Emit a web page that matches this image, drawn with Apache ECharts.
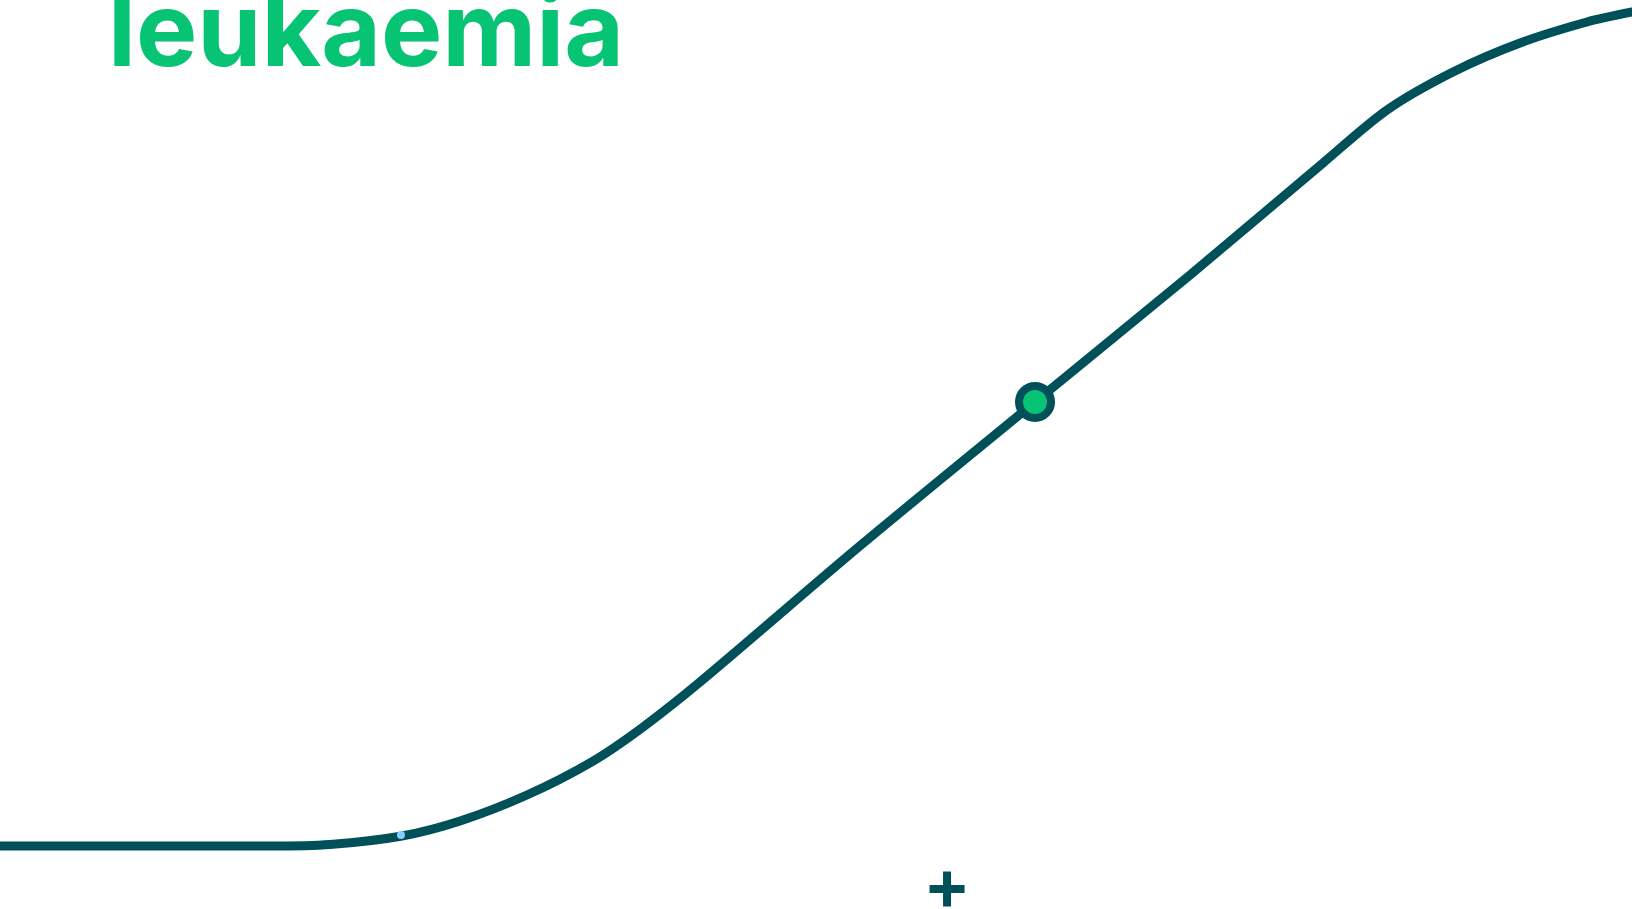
<!DOCTYPE html>
<html>
<head>
<meta charset="utf-8">
<script src="https://cdn.jsdelivr.net/npm/echarts@6/dist/echarts.min.js"></script>
<style>
html,body{margin:0;padding:0;background:#fff;}
#c{width:1632px;height:909px;}
</style>
</head>
<body>
<div id="c"></div>
<script>
// Curve values (x: 0-100 progress, y: 0-100 level)
var curveX = [0, 8.58, 16.54, 20.22, 24.63, 28.19, 32.29, 36.34, 39.40, 42.89, 52.70, 63.42, 72.92, 81.07, 84.99, 89.03, 93.14, 97.24, 100];
var curveY = [6.93, 6.93, 6.93, 7.10, 8.03, 9.68, 12.54, 16.28, 20.02, 24.97, 39.96, 55.78, 69.75, 82.07, 87.90, 92.08, 95.27, 97.58, 98.68];
// Highlighted point
var highlightPoint = [63.42, 55.78];
// Small hover dot
var hoverDot = [24.57, 8.14];
// Plus sign position
var plusPoint = [58.03, 2.20];
var titleText = 'leukaemia';

var curveData = curveX.map(function (x, i) { return [x, curveY[i]]; });

var chart = echarts.init(document.getElementById('c'), null, {renderer: 'canvas'});
chart.setOption({
  backgroundColor: '#ffffff',
  animation: false,
  title: {
    text: titleText,
    left: 103,
    top: -21,
    textStyle: {
      fontFamily: 'Inter',
      fontWeight: 700,
      fontSize: 103,
      color: '#07C374'
    }
  },
  grid: {left: 0, right: 0, top: 0, bottom: 0},
  xAxis: {type: 'value', min: 0, max: 100, show: false},
  yAxis: {type: 'value', min: 0, max: 100, show: false},
  series: [
    {
      type: 'line',
      data: curveData,
      smooth: 0.3,
      showSymbol: false,
      symbol: 'none',
      lineStyle: {color: '#00505A', width: 9, cap: 'round'},
      z: 2
    },
    {
      type: 'scatter',
      data: [hoverDot],
      symbolSize: 8,
      itemStyle: {color: '#8DCBFF', opacity: 1},
      z: 3
    },
    {
      type: 'scatter',
      data: [highlightPoint],
      symbolSize: 32,
      itemStyle: {color: '#07C374', borderColor: '#00505A', borderWidth: 8, opacity: 1},
      z: 4
    },
    {
      type: 'scatter',
      data: [plusPoint],
      symbol: 'path://M13.5,0 L21.5,0 L21.5,13.5 L35,13.5 L35,21.5 L21.5,21.5 L21.5,35 L13.5,35 L13.5,21.5 L0,21.5 L0,13.5 L13.5,13.5 Z',
      symbolSize: 35,
      itemStyle: {color: '#00505A', opacity: 1},
      z: 4
    }
  ]
});
</script>
</body>
</html>
